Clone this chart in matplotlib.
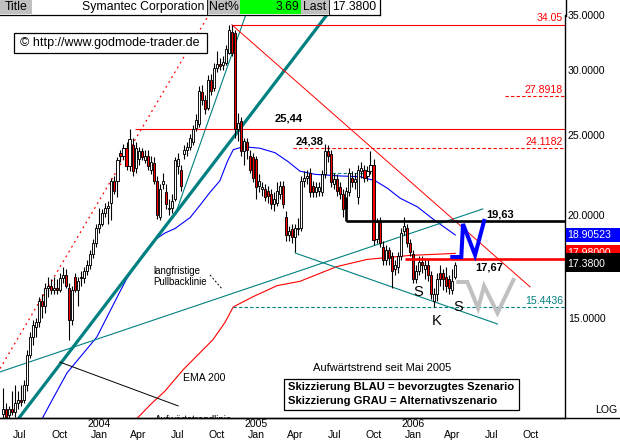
import numpy as np
import pandas as pd
import matplotlib
matplotlib.use('Agg')
import matplotlib.pyplot as plt
import matplotlib.dates as mdates
import matplotlib.transforms as mtransforms
from matplotlib.patches import Rectangle
from matplotlib.lines import Line2D
from matplotlib.ticker import NullLocator

plt.rcParams['font.family'] = ['Liberation Sans', 'DejaVu Sans']

W, H = 620, 441

# weekly candles, Symantec, first week ending 2003-05-23
opens = [11.45, 11.6, 11.4, 11.6, 11.5, 11.8, 11.9, 11.9, 12.4, 13.5,
         14.2, 14.6, 14.8, 15.7, 15.5, 16.3, 16.4, 16.2, 16.3, 16.2,
         16.75, 16.9, 16.3, 14.9, 16.8, 16.2, 16.8, 16.75, 17.1, 17.4,
         17.9, 18.5, 19.3, 19.5, 20.1, 20.4, 20.7, 22.0, 22.0, 23.8,
         23.6, 24.1, 22.9, 24.3, 22.8, 23.4, 23.9, 23.3, 23.6, 22.7,
         23.1, 22.0, 19.9, 21.8, 21.3, 20.3, 20.4, 20.9, 22.9, 22.7,
         23.7, 24.0, 24.2, 24.5, 25.5, 25.8, 28.2, 27.6, 27.0, 29.2,
         28.5, 30.2, 30.5, 30.4, 30.6, 31.5, 33.4, 33.3, 25.4, 26.0,
         23.9, 24.5, 23.6, 23.5, 23.4, 21.7, 21.5, 21.5, 21.4, 21.2,
         20.6, 20.7, 21.2, 21.7, 19.9, 18.9, 19.2, 18.8, 19.2, 19.3,
         22.0, 22.2, 22.5, 21.7, 21.3, 21.4, 21.3, 22.4, 23.9, 23.7,
         21.8, 22.1, 21.6, 21.2, 20.4, 21.3, 22.2, 21.9, 21.0, 22.6,
         22.7, 22.3, 22.6, 23.0, 18.7, 19.6, 18.3, 17.6, 18.1, 17.8,
         17.2, 17.3, 17.8, 19.1, 19.3, 18.5, 17.9, 16.7, 17.1, 17.5,
         17.2, 17.4, 16.9, 15.7, 16.0, 17.0, 17.0, 16.8, 16.7, 16.2,
         16.8]
highs = [12.3, 11.8, 11.7, 12.2, 12.4, 12.2, 12.4, 12.6, 13.7, 14.4,
         14.9, 15.0, 15.9, 16.0, 16.5, 16.8, 16.7, 16.8, 16.7, 17.0,
         17.3, 17.2, 16.5, 16.4, 17.0, 16.8, 17.1, 17.3, 17.6, 18.1,
         18.7, 19.5, 20.4, 20.3, 20.7, 20.8, 22.2, 22.3, 23.5, 24.0,
         24.4, 24.5, 25.44, 24.8, 24.5, 24.2, 24.1, 24.0, 24.0, 23.6,
         23.5, 22.3, 21.8, 22.5, 21.8, 20.9, 21.2, 23.5, 23.8, 23.0,
         24.3, 24.5, 25.1, 25.7, 26.5, 28.7, 28.8, 28.0, 29.6, 29.7,
         30.6, 31.6, 31.0, 31.2, 32.2, 34.05, 34.0, 33.6, 26.6, 26.3,
         24.8, 24.8, 24.0, 23.8, 23.6, 22.4, 21.9, 21.8, 21.7, 21.5,
         21.3, 21.9, 22.0, 22.0, 20.2, 19.4, 19.5, 19.5, 19.8, 22.3,
         22.6, 22.7, 22.8, 22.0, 21.9, 21.9, 22.7, 24.38, 24.3, 24.0,
         22.5, 22.4, 21.9, 21.5, 21.6, 22.8, 22.6, 22.5, 23.0, 23.2,
         23.0, 22.9, 23.9, 23.4, 19.8, 19.9, 18.6, 18.4, 18.3, 18.0,
         17.6, 18.0, 19.3, 19.9, 19.5, 18.7, 18.1, 17.4, 17.8, 17.8,
         17.6, 17.6, 17.1, 16.3, 17.0, 17.4, 17.2, 17.3, 16.9, 17.2,
         17.5]
lows = [11.3, 11.3, 11.3, 11.4, 11.35, 11.6, 11.7, 11.8, 12.2, 13.4,
        13.9, 14.2, 14.6, 15.0, 15.2, 15.9, 16.0, 16.0, 16.0, 16.1,
        16.5, 16.3, 14.1, 14.7, 16.1, 15.5, 16.4, 16.5, 16.9, 17.2,
        17.7, 18.3, 19.0, 19.4, 19.9, 19.5, 19.7, 21.2, 21.0, 23.2,
        23.4, 22.7, 22.6, 22.3, 22.5, 23.0, 23.3, 23.1, 22.7, 22.4,
        21.8, 19.75, 19.7, 21.5, 20.3, 20.0, 20.1, 20.8, 22.4, 21.4,
        23.4, 23.6, 24.0, 24.3, 25.3, 25.6, 27.2, 26.5, 26.8, 28.0,
        28.3, 29.8, 30.0, 30.0, 30.4, 31.4, 31.2, 24.8, 24.6, 23.6,
        23.0, 23.4, 22.5, 21.9, 20.9, 21.3, 21.1, 20.8, 20.7, 20.3,
        20.2, 20.5, 20.9, 20.4, 18.6, 18.6, 18.5, 18.0, 18.9, 19.1,
        21.6, 21.8, 21.0, 21.0, 21.0, 21.1, 21.1, 22.2, 23.2, 21.6,
        21.5, 21.1, 20.9, 19.9, 20.2, 21.1, 21.6, 21.5, 20.6, 22.2,
        21.9, 22.0, 22.4, 18.4, 18.5, 18.3, 17.4, 17.4, 17.4, 16.3,
        16.9, 17.0, 17.6, 18.9, 18.3, 17.8, 16.5, 16.5, 16.9, 17.0,
        16.7, 16.6, 15.8, 15.44, 15.7, 16.4, 16.2, 16.1, 16.0, 16.0,
        16.7]
closes = [11.6, 11.35, 11.6, 11.5, 11.8, 11.9, 11.85, 12.4, 13.5, 14.2,
          14.7, 14.8, 15.7, 15.5, 16.3, 16.4, 16.2, 16.3, 16.2, 16.75,
          16.9, 16.4, 14.9, 16.2, 16.2, 16.6, 16.75, 17.1, 17.4, 17.9,
          18.5, 19.3, 19.5, 20.1, 20.4, 20.5, 22.0, 21.4, 23.3, 23.6,
          24.1, 22.9, 24.7, 22.6, 24.1, 23.9, 23.5, 23.6, 22.9, 23.2,
          22.0, 20.0, 21.5, 22.0, 20.6, 20.4, 20.8, 23.3, 23.4, 21.7,
          24.0, 24.2, 24.8, 25.4, 26.1, 28.3, 27.6, 26.9, 29.2, 28.3,
          30.2, 30.5, 30.3, 30.7, 31.8, 33.55, 31.5, 25.4, 25.9, 23.9,
          24.6, 24.0, 22.7, 22.2, 21.6, 22.0, 21.6, 21.0, 21.1, 20.6,
          20.9, 21.4, 21.7, 20.6, 18.9, 19.1, 18.8, 19.3, 19.3, 22.0,
          22.2, 22.3, 21.3, 21.3, 21.6, 21.6, 22.4, 23.9, 23.6, 21.9,
          22.1, 21.4, 21.2, 20.3, 21.4, 22.5, 21.9, 22.1, 22.7, 22.8,
          22.2, 22.6, 23.0, 18.65, 19.6, 18.5, 17.6, 18.1, 17.7, 17.1,
          17.4, 17.8, 19.0, 19.4, 18.5, 18.0, 16.7, 17.1, 17.5, 17.4,
          17.4, 16.9, 16.0, 16.0, 16.7, 16.7, 16.7, 16.4, 16.3, 16.6,
          17.38]
weeks = pd.date_range('2003-05-23', periods=len(closes), freq='W-FRI')

# blue moving average
ma_dates = ['2003-08-22', '2003-09-14', '2003-10-19', '2003-12-27', '2004-02-18',
            '2004-03-05', '2004-04-12', '2004-05-10', '2004-06-02', '2004-06-26',
            '2004-07-31', '2004-08-23', '2004-09-15', '2004-10-08', '2004-10-25',
            '2004-11-08', '2004-12-01', '2005-01-09', '2005-02-13', '2005-03-16',
            '2005-04-12', '2005-05-17', '2005-07-14', '2005-08-30', '2005-10-04',
            '2005-11-01', '2005-12-01', '2006-01-10', '2006-02-16', '2006-04-08']
ma_vals = [11.3, 11.9, 12.85, 14.2, 16.1,
           16.7, 17.9, 18.65, 19.0, 19.25,
           19.85, 20.55, 21.3, 22.0, 23.2,
           24.0, 24.2, 24.1, 23.8, 23.2,
           22.6, 22.4, 22.3, 22.25, 22.0,
           21.55, 20.95, 20.45, 19.75, 18.9]

# red EMA 200
ema_dates = ['2004-03-29', '2004-05-03', '2004-06-02', '2004-07-14', '2004-09-22',
             '2004-10-20', '2004-11-08', '2004-12-24', '2005-02-18', '2005-04-12',
             '2005-07-07', '2005-09-15', '2005-12-24', '2006-04-08']
ema_vals = [11.3, 11.8, 12.2, 12.95, 14.1,
            14.8, 15.45, 15.9, 16.4, 16.6,
            17.3, 17.65, 17.85, 17.95]

# drawn trend lines (date, price)
upper_dotted = [('2003-05-16', 13.0), ('2004-09-12', 35.0)]
thick_teal = [('2003-06-29', 11.32), ('2005-06-17', 35.2)]
thin_teal = [('2004-06-26', 20.0), ('2004-12-07', 35.0)]
pullback = [('2003-05-16', 12.88), ('2006-06-11', 20.33)]
lower_channel = [('2005-04-01', 17.97), ('2006-07-15', 14.73)]
down_red = [('2004-11-05', 34.05), ('2006-09-29', 16.34)]
pointer = [('2003-10-02', 13.24), ('2004-07-03', 11.71)]
pointer_dash = [('2004-09-15', 16.9), ('2004-10-13', 16.25)]
blue_n = [('2006-04-01', 17.77), ('2006-04-22', 17.77), ('2006-04-26', 19.49),
          ('2006-05-24', 17.87), ('2006-06-14', 19.66)]
grey_w = [('2006-04-15', 16.57), ('2006-05-06', 16.57), ('2006-05-31', 15.4),
          ('2006-06-14', 16.38), ('2006-07-15', 15.19), ('2006-08-21', 16.66)]

# horizontal levels: value, start date
lvl_3405 = (34.05, '2004-11-05')
lvl_2789 = (27.8918, '2006-08-02')
lvl_2544 = (25.44, '2004-03-25')
lvl_2411 = (24.1182, '2005-03-27')
lvl_1963 = (19.63, '2005-07-29')
lvl_1767 = (17.67, '2005-12-13')
lvl_1544 = (15.4436, '2004-11-08')

y_ticks = [15, 20, 25, 30, 35]
y_labels = ['15.0000', '20.0000', '25.0000', '30.0000', '35.0000']
month_ticks = ['2003-07-01', '2003-10-01', '2004-01-01', '2004-04-01', '2004-07-01',
               '2004-10-01', '2005-01-01', '2005-04-01', '2005-07-01', '2005-10-01',
               '2006-01-01', '2006-04-01', '2006-07-01', '2006-10-01']
month_labels = ['Jul', 'Oct', 'Jan', 'Apr', 'Jul', 'Oct', 'Jan',
                'Apr', 'Jul', 'Oct', 'Jan', 'Apr', 'Jul', 'Oct']
year_ticks = ['2004-01-01', '2005-01-01', '2006-01-01']
year_labels = ['2004', '2005', '2006']


def d(s):
    return mdates.date2num(pd.Timestamp(s))


def fx(x):
    return x / W


def fy(y):
    return 1 - y / H


fig = plt.figure(figsize=(6.2, 4.41), dpi=100)
ax = fig.add_axes([0, fy(418), fx(565), (418 - 15) / H])
ax.set_yscale('log')
x0, x1 = d('2003-05-16'), d('2006-12-19')
ax.set_xlim(x0, x1)
ax.set_ylim(11.32, 35.0)

teal = '#008080'

def seg(pts, **kw):
    ax.plot([d(p[0]) for p in pts], [p[1] for p in pts], **kw)

# indicator lines
ax.plot([d(s) for s in ma_dates], ma_vals, color='blue', lw=0.8, zorder=2)
ax.plot([d(s) for s in ema_dates], ema_vals, color='red', lw=0.8, zorder=2)

# trend lines
seg(upper_dotted, color='red', lw=0.9, ls=(0, (1.5, 3)), zorder=2)
seg(thick_teal, color=teal, lw=2.3, zorder=2)
seg(thin_teal, color=teal, lw=0.8, zorder=2)
seg(pullback, color=teal, lw=0.8, zorder=2)
seg(lower_channel, color=teal, lw=0.8, zorder=2)
seg(down_red, color='red', lw=0.7, zorder=2)
seg(pointer, color='black', lw=0.7, zorder=2)
seg(pointer_dash, color='black', lw=0.7, ls=(0, (2, 2)), zorder=2)

# levels
ax.hlines(lvl_3405[0], d(lvl_3405[1]), x1, color='red', lw=0.8)
ax.hlines(lvl_2789[0], d(lvl_2789[1]), x1, color='red', lw=0.8, ls=(0, (3, 2)))
ax.hlines(lvl_2544[0], d(lvl_2544[1]), x1, color='red', lw=0.8)
ax.hlines(lvl_2411[0], d(lvl_2411[1]), x1, color='red', lw=0.8, ls=(0, (3, 2)))
ax.hlines(lvl_1544[0], d(lvl_1544[1]), x1, color=teal, lw=0.8, ls=(0, (3, 2)))
ax.hlines(22.5, d('2005-06-25'), d('2005-09-10'), color=teal, lw=0.8, ls=(0, (3, 2)))
ax.hlines(lvl_1963[0], d(lvl_1963[1]), x1, color='black', lw=1.9, zorder=5)
ax.vlines(d(lvl_1963[1]), lvl_1963[0], 21.0, color='black', lw=1.9, zorder=5)
ax.hlines(lvl_1767[0], d(lvl_1767[1]), x1, color='red', lw=1.9, zorder=5)

# candles
xs = mdates.date2num(weeks)
o, h, l, c = (np.array(v) for v in (opens, highs, lows, closes))
ax.vlines(xs, l, h, color='black', lw=0.8, zorder=3)
ax.bar(xs, np.maximum(np.abs(c - o), 0.06), bottom=np.minimum(o, c), width=4.8,
       color=np.where(c >= o, 'white', 'red'), edgecolor='black', linewidth=0.65, zorder=4)

# scenarios
seg(blue_n, color='blue', lw=2.9, zorder=6, solid_joinstyle='miter')
seg(grey_w, color='#c0c0c0', lw=2.9, zorder=6, solid_joinstyle='miter')

ax.text(d('2004-05-10'), 11.27, 'Aufwärtstrendlinie', fontsize=7, va='center',
        ha='left', clip_on=True)

# axes styling
for s in ['top', 'left']:
    ax.spines[s].set_visible(False)
ax.spines['right'].set_linewidth(1)
ax.spines['bottom'].set_linewidth(1)
ax.yaxis.tick_right()
ax.yaxis.set_minor_locator(NullLocator())
ax.set_yticks(y_ticks)
ax.set_yticklabels(y_labels)
ax.tick_params(axis='y', length=0, pad=2, labelsize=7.6)
ax.set_xticks([d(s) for s in month_ticks])
ax.set_xticklabels(month_labels)
ax.tick_params(axis='x', length=0, pad=9, labelsize=7.6)
ytrans = mtransforms.blended_transform_factory(ax.transData, fig.transFigure)
for ds, lab in zip(year_ticks, year_labels):
    ax.text(d(ds), fy(424), lab, transform=ytrans, ha='center', va='center',
            fontsize=7.6, clip_on=False)
fig.add_artist(Line2D([0, 1], [fy(418), fy(418)], color='black', lw=1))
fig.add_artist(Line2D([fx(565.5), fx(565.5)], [fy(0), fy(16)], color='black', lw=1))

# header
def box(x0p, x1p, y0p, y1p, fc, lw=0.8, ec='black', z=10):
    fig.add_artist(Rectangle((fx(x0p), fy(y1p)), fx(x1p - x0p), (y1p - y0p) / H,
                             facecolor=fc, edgecolor=ec, lw=lw, zorder=z))

box(0, 32, 0, 14, '#c0c0c0', lw=0)
box(207, 240, 0, 14, '#c0c0c0', lw=0)
box(240, 301, 0, 14, '#00ff00', lw=0)
box(301, 329, 0, 14, '#c0c0c0', lw=0)
fig.add_artist(Line2D([0, fx(380)], [fy(14.5), fy(14.5)], color='black', lw=0.9, zorder=11))
fig.add_artist(Line2D([fx(380), fx(380)], [fy(0), fy(14.5)], color='black', lw=0.9, zorder=11))
for xv in [207, 329]:
    fig.add_artist(Line2D([fx(xv), fx(xv)], [fy(0), fy(14.5)], color='black', lw=0.6, zorder=11))
hk = dict(fontsize=8.8, va='center', zorder=12)
fig.text(fx(16), fy(7), 'Title', ha='center', **hk)
fig.text(fx(204), fy(7), 'Symantec Corporation', ha='right', **hk)
fig.text(fx(209), fy(7), 'Net%', ha='left', **hk)
fig.text(fx(299), fy(7), '3.69', ha='right', **hk)
fig.text(fx(303), fy(7), 'Last', ha='left', **hk)
fig.text(fx(332), fy(7), '17.3800', ha='left', **hk)

# watermark
box(14, 207, 33, 53, 'white', lw=0.9)
fig.text(fx(20), fy(43), '© http://www.godmode-trader.de', fontsize=9, va='center', zorder=12)

# level labels
fig.text(fx(563), fy(18), '34.05', color='red', ha='right', va='center', fontsize=7.6)
fig.text(fx(563), fy(90), '27.8918', color='red', ha='right', va='center', fontsize=7.6)
fig.text(fx(563), fy(142), '24.1182', color='red', ha='right', va='center', fontsize=7.6)
fig.text(fx(563), fy(301), '15.4436', color=teal, ha='right', va='center', fontsize=7.6)
bk = dict(fontsize=8, fontweight='bold', va='center', ha='center')
fig.text(fx(289), fy(119), '25,44', **bk)
fig.text(fx(310), fy(142), '24,38', **bk)
fig.text(fx(500), fy(215), '19,63', **bk)
fig.text(fx(489), fy(267), '17,67', **bk)

# right value boxes
box(566, 620, 228, 242, 'blue', lw=0)
fig.text(fx(567), fy(235), '18.90523', color='white', va='center', fontsize=7.6, zorder=12)
box(566, 620, 245, 261, 'red', lw=0, z=10)
fig.text(fx(567), fy(253), '17.98000', color='white', va='center', fontsize=7.6, zorder=10.5)
box(566, 620, 253, 272, 'black', lw=0, z=11)
fig.text(fx(567), fy(264), '17.3800', color='white', va='center', fontsize=7.6, zorder=12)
fig.text(fx(617), fy(410), 'LOG', ha='right', va='center', fontsize=7.6)

# chart notes
fig.text(fx(153), fy(271), 'langfristige', fontsize=7, va='center')
fig.text(fx(153), fy(282), 'Pullbacklinie', fontsize=7, va='center')
fig.text(fx(183), fy(378), 'EMA 200', fontsize=7.6, va='center')
fig.text(fx(313), fy(368), 'Aufwärtstrend seit Mai 2005', fontsize=8.0, va='center')
box(284, 519, 379, 410, 'white', lw=0.9)
fig.text(fx(288), fy(387), 'Skizzierung BLAU = bevorzugtes Szenario', fontsize=8.1,
         fontweight='bold', va='center', zorder=12)
fig.text(fx(288), fy(401), 'Skizzierung GRAU = Alternativszenario', fontsize=8.1,
         fontweight='bold', va='center', zorder=12)
sk = dict(fontsize=10.5, ha='center', va='center')
fig.text(fx(418), fy(292), 'S', **sk)
fig.text(fx(458), fy(307), 'S', **sk)
fig.text(fx(437), fy(321), 'K', **sk)

fig.savefig('out.png', dpi=100, facecolor='white')
